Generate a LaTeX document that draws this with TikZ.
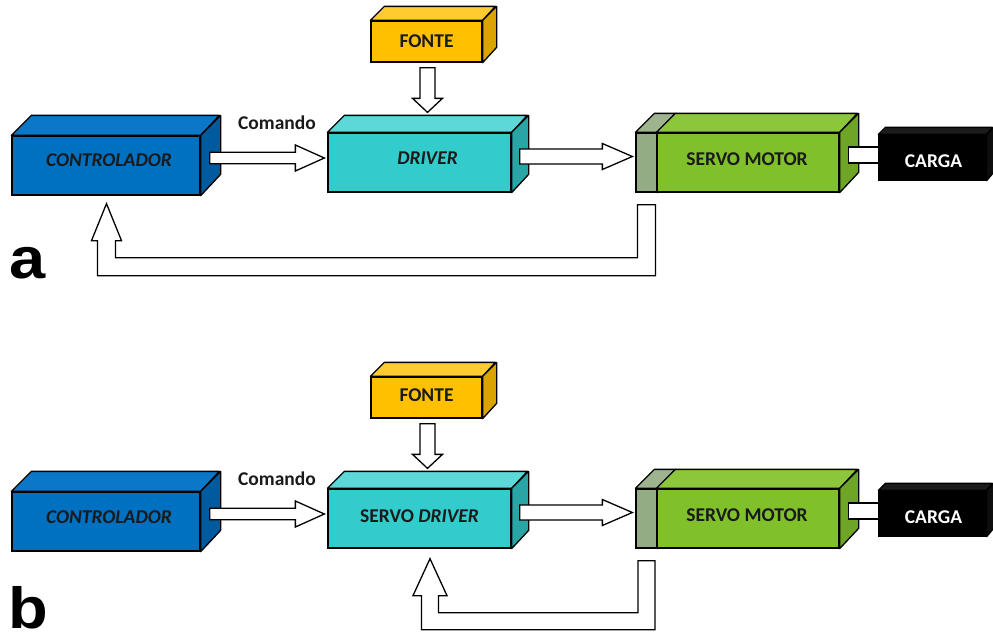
\documentclass[tikz,border=0pt]{standalone}
\usepackage{fontspec}
\setmainfont{Carlito}
\newfontfamily\bigsans{Liberation Sans}
\usetikzlibrary{calc}
\definecolor{blueF}{HTML}{0070C0}\definecolor{blueT}{HTML}{0A78C6}\definecolor{blueS}{HTML}{005A9E}
\definecolor{cyanF}{HTML}{33CCCC}\definecolor{cyanT}{HTML}{5CD8D8}\definecolor{cyanS}{HTML}{2AA5A5}
\definecolor{yelF}{HTML}{FFC000}\definecolor{yelT}{HTML}{FFCB2E}\definecolor{yelS}{HTML}{D9A300}
\definecolor{greenF}{HTML}{80C02A}\definecolor{greenT}{HTML}{8CC63A}\definecolor{greenS}{HTML}{6EA526}
\definecolor{greyF}{HTML}{93AC84}\definecolor{greyT}{HTML}{9DB48E}\definecolor{greyS}{HTML}{7F9870}
\definecolor{blackF}{HTML}{000000}\definecolor{blackT}{HTML}{1C1C1C}\definecolor{blackS}{HTML}{0E0E0E}
\definecolor{txt}{HTML}{1A1A1A}
\tikzset{
  face/.style={draw=black, line width=1.3pt, inner sep=0pt},
  edge/.style={draw=black, line width=1.3pt, line join=round},
  blockarr/.style={draw=black, fill=white, line width=1.3pt, line join=miter},
  lbl/.style={font=\bfseries\fontsize{19.5}{22}\selectfont, text=txt, inner sep=0pt},
  biglbl/.style={font=\bigsans\bfseries\fontsize{58}{60}\selectfont, text=black, inner sep=0pt, anchor=base, xscale=1.12},
  shaftbox/.style={draw=black, fill=white, line width=1.3pt}
}
% cuboid: name, x1, y1, x2, y2, depth, colour prefix, text, text offset
\newcommand\cuboid[9]{%
  \node[face, fill=#7F, minimum width={#4-#2}, minimum height={#5-#3}] (#1) at ({(#2+#4)/2},{(#3+#5)/2}) {};
  \draw[edge, fill=#7T] (#1.north west) -- ++(#6,-#6) -- ++({#4-#2},0) -- (#1.north east) -- cycle;
  \draw[edge, fill=#7S] (#1.north east) -- ++(#6,-#6) -- ++(0,{#5-#3}) -- (#1.south east) -- cycle;
  \node[lbl] (#1-t) at ($(#1.center)+#9$) {#8};
}
% horizontal block arrow: start, tip, half shaft, half head, head length
\newcommand\harr[5]{%
  \draw[blockarr] let \p1=#1, \p2=#2 in
    ({\x1},{\y1+#3pt}) -- ({\x2-#5pt},{\y1+#3pt}) -- ({\x2-#5pt},{\y1+#4pt}) -- ({\x2},{\y1})
    -- ({\x2-#5pt},{\y1-#4pt}) -- ({\x2-#5pt},{\y1-#3pt}) -- ({\x1},{\y1-#3pt}) -- cycle;
}
% vertical (downward) block arrow
\newcommand\varr[5]{%
  \draw[blockarr] let \p1=#1, \p2=#2 in
    ({\x1-#3pt},{\y1}) -- ({\x1+#3pt},{\y1}) -- ({\x1+#3pt},{\y2+#5pt}) -- ({\x1+#4pt},{\y2+#5pt})
    -- ({\x1},{\y2}) -- ({\x1-#4pt},{\y2+#5pt}) -- ({\x1-#3pt},{\y2+#5pt}) -- cycle;
}
% feedback U block arrow: start (top of right leg), tip, depth, half shaft, half head, head length
\newcommand\fbarr[6]{%
  \draw[blockarr] let \p1=#1, \p2=#2 in
    ({\x1-#4pt},{\y1}) -- ({\x1+#4pt},{\y1}) -- ({\x1+#4pt},{\y1-#3pt-#4pt})
    -- ({\x2-#4pt},{\y1-#3pt-#4pt}) -- ({\x2-#4pt},{\y2-#6pt}) -- ({\x2-#5pt},{\y2-#6pt})
    -- ({\x2},{\y2}) -- ({\x2+#5pt},{\y2-#6pt}) -- ({\x2+#4pt},{\y2-#6pt})
    -- ({\x2+#4pt},{\y1-#3pt+#4pt}) -- ({\x1-#4pt},{\y1-#3pt+#4pt}) -- cycle;
}
\begin{document}
\begin{tikzpicture}[x=1pt,y=-1pt]
\useasboundingbox (0,0) rectangle (993,635);
% ---------- panel a ----------
\cuboid{ctrlA}{12}{136}{200}{195}{20}{blue}{\textit{CONTROLADOR}}{(3,-5)}
\cuboid{fonA}{371}{21}{482}{62}{14}{yel}{FONTE}{(0,-0.5)}
\cuboid{drvA}{328}{133}{511}{192}{17}{cyan}{\textit{DRIVER}}{(8,-4)}
\cuboid{gryA}{636}{133}{657}{192}{19}{grey}{}{(0,0)}
\cuboid{smA}{657}{133}{839}{192}{19}{green}{SERVO MOTOR}{(-1,-3.5)}
\draw[shaftbox] ($(smA.east)+(9,-15.5)$) rectangle ($(smA.east)+(42,0.5)$);
\cuboid{cgA}{879}{135}{986}{180}{7}{black}{\textcolor{white}{CARGA}}{(1,3.5)}
\node[lbl] (cmdA) at (277,123) {Comando};
\harr{($(ctrlA.east)+(9,-7.5)$)}{($(drvA.west)+(-3,0)$)}{5.8}{13}{29}
\harr{($(drvA.east)+(8,-6)$)}{($(gryA.west)+(-3,0)$)}{7.5}{13}{30}
\varr{($(fonA.south)+(1,5)$)}{($(fonA.south |- drvA.north)+(1,-20)$)}{7.5}{15}{14}
\fbarr{($(gryA.south)+(0,12)$)}{($(ctrlA.south)+(0.5,8)$)}{62}{9}{15}{37}
\node[biglbl] (labA) at (28,278) {a};
% ---------- panel b ----------
\begin{scope}[shift={(0,356)}]
\cuboid{ctrlB}{12}{136}{200}{195}{20}{blue}{\textit{CONTROLADOR}}{(3,-4)}
\cuboid{fonB}{371}{21}{482}{62}{14}{yel}{FONTE}{(0,-2)}
\cuboid{drvB}{328}{133}{511}{192}{17}{cyan}{SERVO \textit{DRIVER}}{(0,-2)}
\cuboid{gryB}{636}{133}{657}{192}{19}{grey}{}{(0,0)}
\cuboid{smB}{657}{133}{839}{192}{19}{green}{SERVO MOTOR}{(-1,-3.5)}
\draw[shaftbox] ($(smB.east)+(9,-15.5)$) rectangle ($(smB.east)+(42,0.5)$);
\cuboid{cgB}{879}{135}{986}{180}{7}{black}{\textcolor{white}{CARGA}}{(1,3.5)}
\node[lbl] (cmdB) at (277,123) {Comando};
\harr{($(ctrlB.east)+(9,-7.5)$)}{($(drvB.west)+(-3,0)$)}{5.8}{13}{29}
\harr{($(drvB.east)+(8,-6)$)}{($(gryB.west)+(-3,0)$)}{7.5}{13}{30}
\varr{($(fonB.south)+(1,5)$)}{($(fonB.south |- drvB.north)+(1,-20)$)}{7.5}{15}{14}
\fbarr{($(gryB.south)+(0,12)$)}{($(drvB.south)+(10.5,10)$)}{60.5}{8.5}{17}{37}
\end{scope}
\node[biglbl] (labB) at (28,628) {b};
\end{tikzpicture}
\end{document}
